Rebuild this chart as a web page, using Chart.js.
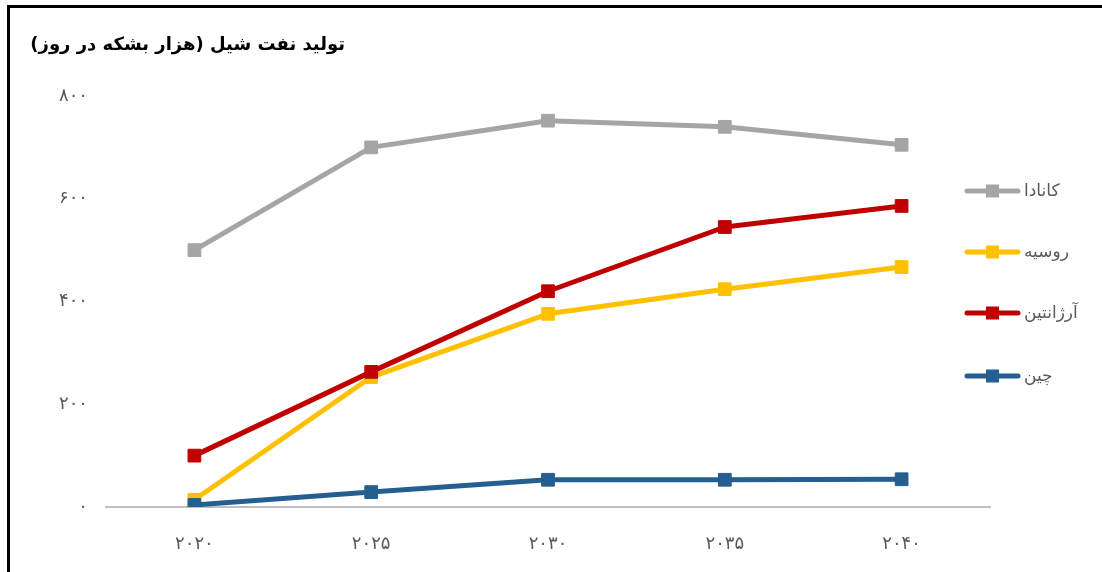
<!DOCTYPE html>
<html>
<head>
<meta charset="utf-8">
<script src="https://cdn.jsdelivr.net/npm/chart.js@4.4.1/dist/chart.umd.min.js"></script>
<style>
html,body{margin:0;padding:0;background:#fff;}
#wrap{width:1102px;height:572px;position:relative;}
</style>
</head>
<body>
<div id="wrap"><canvas id="c" width="1102" height="572"></canvas></div>
<script>
const chartTitle = 'تولید نفت شیل (هزار بشکه در روز)';
const categories = ['۲۰۲۰', '۲۰۲۵', '۲۰۳۰', '۲۰۳۵', '۲۰۴۰'];
const seriesNames = ['کانادا', 'روسیه', 'آرژانتین', 'چین'];
const canada = [500, 700, 752, 740, 705];
const russia = [14, 253, 376, 424, 467];
const argentina = [100, 263, 420, 545, 586];
const china = [4, 29, 53, 53, 54];
const yTickValues = [0, 200, 400, 600, 800];
const yTickLabels = ['۰', '۲۰۰', '۴۰۰', '۶۰۰', '۸۰۰'];
const seriesColors = ['#A5A5A5', '#FFC000', '#C00000', '#255E91'];

const FONT = "'DejaVu Sans', 'Noto Sans', sans-serif";

function ds(label, data, color, order) {
  return {
    label, data, order,
    borderColor: color, backgroundColor: color,
    borderWidth: 5, pointStyle: 'rect', pointRadius: 9, pointHoverRadius: 9,
    pointBorderWidth: 1, pointBorderColor: color, pointBackgroundColor: color,
    tension: 0, fill: false, borderJoinStyle: 'round'
  };
}

const decor = {
  id: 'decor',
  beforeDraw(chart) {
    const ctx = chart.ctx;
    ctx.save();
    ctx.fillStyle = '#000';
    ctx.fillRect(7, 5, 3, 567);
    ctx.fillRect(7, 5, 1095, 3);
    ctx.restore();
  },
  afterDraw(chart) {
    const ctx = chart.ctx;
    ctx.save();
    // title
    ctx.fillStyle = '#000';
    ctx.font = "bold 18px " + FONT;
    ctx.textBaseline = 'middle';
    ctx.textAlign = 'right';
    ctx.direction = 'rtl';
    ctx.fillText(chartTitle, 345, 45);
    // legend
    const ys = [191, 252, 313, 376];
    chart.data.datasets.forEach((d, i) => {
      const y = ys[i];
      ctx.strokeStyle = d.borderColor;
      ctx.lineWidth = 5;
      ctx.lineCap = 'round';
      ctx.beginPath();
      ctx.moveTo(967, y);
      ctx.lineTo(1018, y);
      ctx.stroke();
      ctx.fillStyle = d.borderColor;
      ctx.fillRect(986, y - 6.5, 13, 13);
      ctx.fillStyle = '#595959';
      ctx.font = "17px " + FONT;
      ctx.direction = 'rtl';
      ctx.textAlign = 'right';
      const w = ctx.measureText(d.label).width;
      ctx.fillText(d.label, 1024 + w, y + 1);
    });
    ctx.restore();
  }
};

new Chart(document.getElementById('c'), {
  type: 'line',
  data: {
    labels: categories,
    datasets: [
      ds(seriesNames[0], canada, seriesColors[0], 4),
      ds(seriesNames[1], russia, seriesColors[1], 3),
      ds(seriesNames[2], argentina, seriesColors[2], 2),
      ds(seriesNames[3], china, seriesColors[3], 1)
    ]
  },
  options: {
    responsive: false,
    animation: false,
    events: [],
    layout: { padding: { top: 96, right: 112, left: 0, bottom: 0 } },
    plugins: { legend: { display: false }, title: { display: false }, tooltip: { enabled: false } },
    scales: {
      x: {
        offset: true,
        grid: { display: false, drawTicks: false },
        border: { display: true, color: '#BFBFBF', width: 2 },
        ticks: { color: '#595959', font: { family: FONT, size: 18 }, padding: 27, maxRotation: 0 },
        afterFit(s) { s.height = 65; }
      },
      y: {
        min: 0, max: 800,
        grid: { display: false, drawTicks: false },
        border: { display: false },
        afterBuildTicks(s) { s.ticks = yTickValues.map(v => ({ value: v })); },
        ticks: {
          color: '#595959', font: { family: FONT, size: 18 }, padding: 18,
          callback: (v) => yTickLabels[yTickValues.indexOf(v)]
        },
        afterFit(s) { s.width = 106; }
      }
    }
  },
  plugins: [decor]
});
</script>
</body>
</html>
